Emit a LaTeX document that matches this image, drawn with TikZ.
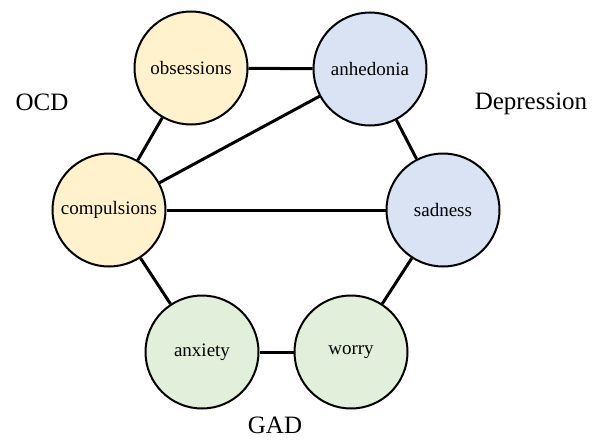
\documentclass[tikz,border=0pt]{standalone}
\usepackage{fontspec}
\setmainfont{Liberation Serif}
\begin{document}
\begin{tikzpicture}[x=1pt,y=-1pt,
  sym/.style={circle,draw=black,line width=2pt,minimum size=113pt,inner sep=0pt,font=\rmfamily\fontsize{19}{22}\selectfont},
  ocd/.style={sym,fill=ocdfill},
  dep/.style={sym,fill=depfill},
  gad/.style={sym,fill=gadfill},
  grp/.style={inner sep=0pt,font=\rmfamily\fontsize{25}{28}\selectfont},
  edge/.style={line width=3pt}]
\definecolor{ocdfill}{HTML}{FFF2CC}
\definecolor{depfill}{HTML}{DAE3F3}
\definecolor{gadfill}{HTML}{E2EFDA}
\useasboundingbox (0,0) rectangle (601,439);
\node[ocd] (obs) at (191,68) {obsessions};
\node[dep] (anh) at (370,69) {anhedonia};
\node[ocd] (comp) at (109,210) {compulsions};
\node[dep] (sad) at (443,210) {sadness};
\node[gad] (anx) at (202,352) {anxiety};
\node[gad] (wor) at (351,352) {worry};
\node[grp] (locd) at (42,102) {OCD};
\node[grp] (ldep) at (531,104) {Depression};
\node[grp] (lgad) at (275,425) {GAD};
\draw[edge] (obs) -- (anh);
\draw[edge] (obs) -- (comp);
\draw[edge] (comp) -- (anh);
\draw[edge] (comp) -- (sad);
\draw[edge] (anh) -- (sad);
\draw[edge] (comp) -- (anx);
\draw[edge] (anx) -- (wor);
\draw[edge] (wor) -- (sad);
\end{tikzpicture}
\end{document}
